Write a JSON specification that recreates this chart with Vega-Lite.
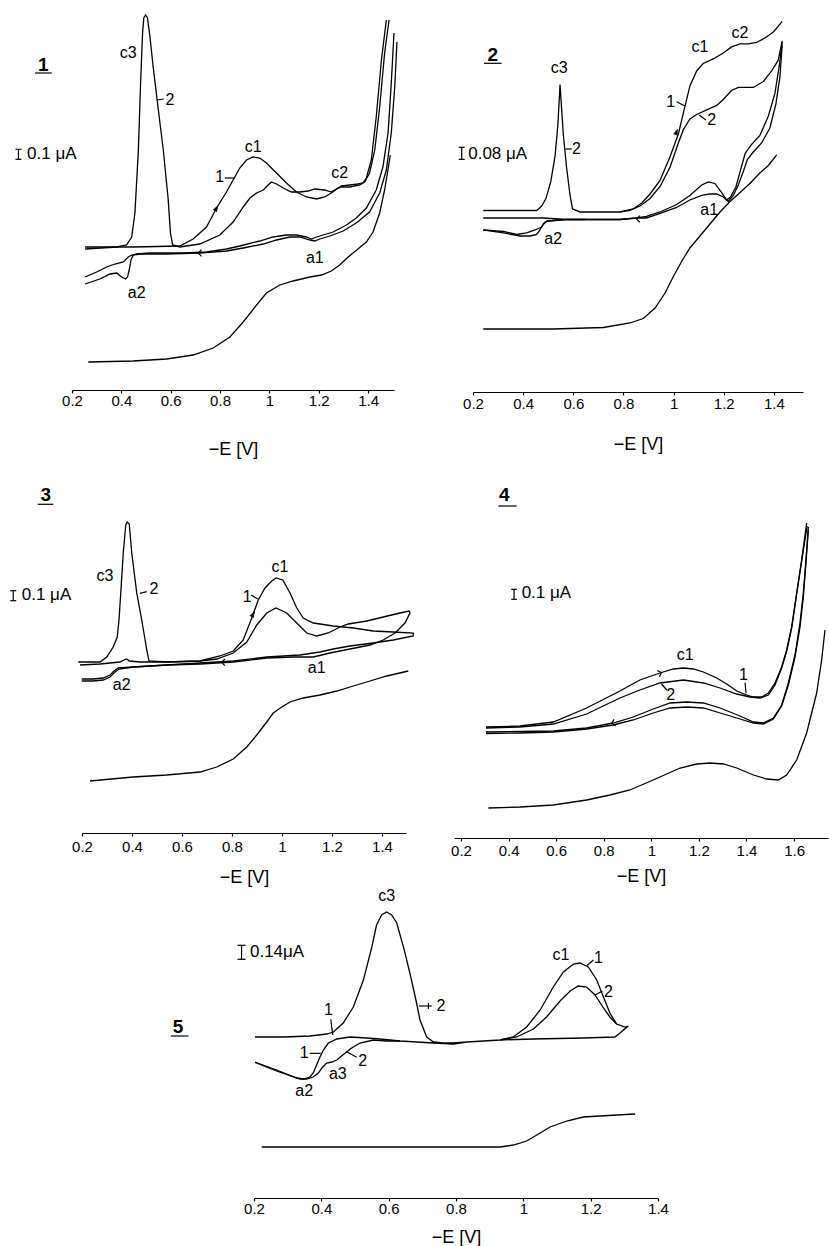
{
"$schema": "https://vega.github.io/schema/vega-lite/v6.json",
"width": 829, "height": 1246, "autosize": {"type": "none"}, "padding": 0, "background": "white",
"config": {
 "view": {"stroke": null},
 "axis": {"grid": false, "domainColor": "black", "tickColor": "black", "labelColor": "black", "titleColor": "black", "labelFont": "Liberation Sans", "titleFont": "Liberation Sans", "labelFontSize": 15, "titleFontSize": 18, "titleFontWeight": "normal", "tickSize": 3, "domainWidth": 1.2, "tickWidth": 1.2, "labelFlush": false, "labelOverlap": false},
 "text": {"font": "Liberation Sans", "fontSize": 16, "color": "black"},
 "line": {"color": "black", "strokeWidth": 1.3},
 "rule": {"color": "black", "strokeWidth": 1.2}
},
"datasets": {
 "c1": [
  {"c":"a","o":0,"E":0.253,"I":1.39},{"c":"a","o":1,"E":0.381,"I":1.41},{"c":"a","o":2,"E":0.421,"I":1.43},{"c":"a","o":3,"E":0.442,"I":1.51},{"c":"a","o":4,"E":0.455,"I":1.75},{"c":"a","o":5,"E":0.469,"I":2.38},{"c":"a","o":6,"E":0.478,"I":3.05},{"c":"a","o":7,"E":0.486,"I":3.55},{"c":"a","o":8,"E":0.491,"I":3.70},{"c":"a","o":9,"E":0.498,"I":3.73},{"c":"a","o":10,"E":0.506,"I":3.70},{"c":"a","o":11,"E":0.516,"I":3.51},{"c":"a","o":12,"E":0.529,"I":3.21},{"c":"a","o":13,"E":0.550,"I":2.78},{"c":"a","o":14,"E":0.570,"I":2.38},{"c":"a","o":15,"E":0.590,"I":1.88},{"c":"a","o":16,"E":0.599,"I":1.55},{"c":"a","o":17,"E":0.608,"I":1.43},{"c":"a","o":18,"E":0.637,"I":1.41},{"c":"a","o":19,"E":0.718,"I":1.44},{"c":"a","o":20,"E":0.799,"I":1.53},{"c":"a","o":21,"E":0.853,"I":1.66},{"c":"a","o":22,"E":0.894,"I":1.81},{"c":"a","o":23,"E":0.921,"I":1.90},{"c":"a","o":24,"E":0.948,"I":1.95},{"c":"a","o":25,"E":0.975,"I":1.98},{"c":"a","o":26,"E":0.995,"I":2.03},{"c":"a","o":27,"E":1.008,"I":2.06},{"c":"a","o":28,"E":1.029,"I":2.04},{"c":"a","o":29,"E":1.056,"I":2.00},{"c":"a","o":30,"E":1.089,"I":1.96},{"c":"a","o":31,"E":1.123,"I":1.96},{"c":"a","o":32,"E":1.157,"I":1.97},{"c":"a","o":33,"E":1.184,"I":1.99},{"c":"a","o":34,"E":1.224,"I":1.98},{"c":"a","o":35,"E":1.251,"I":1.96},{"c":"a","o":36,"E":1.272,"I":1.99},{"c":"a","o":37,"E":1.292,"I":2.01},{"c":"a","o":38,"E":1.326,"I":2.01},{"c":"a","o":39,"E":1.366,"I":2.03},{"c":"a","o":40,"E":1.386,"I":2.06},{"c":"a","o":41,"E":1.406,"I":2.15},{"c":"a","o":42,"E":1.427,"I":2.38},{"c":"a","o":43,"E":1.447,"I":2.81},{"c":"a","o":44,"E":1.467,"I":3.35},{"c":"a","o":45,"E":1.485,"I":3.68},
  {"c":"b","o":0,"E":0.253,"I":1.41},{"c":"b","o":1,"E":0.448,"I":1.41},{"c":"b","o":2,"E":0.637,"I":1.42},{"c":"b","o":3,"E":0.691,"I":1.49},{"c":"b","o":4,"E":0.745,"I":1.61},{"c":"b","o":5,"E":0.786,"I":1.80},{"c":"b","o":6,"E":0.826,"I":1.96},{"c":"b","o":7,"E":0.853,"I":2.08},{"c":"b","o":8,"E":0.880,"I":2.20},{"c":"b","o":9,"E":0.907,"I":2.28},{"c":"b","o":10,"E":0.934,"I":2.31},{"c":"b","o":11,"E":0.961,"I":2.30},{"c":"b","o":12,"E":0.988,"I":2.25},{"c":"b","o":13,"E":1.029,"I":2.15},{"c":"b","o":14,"E":1.069,"I":2.05},{"c":"b","o":15,"E":1.110,"I":1.96},{"c":"b","o":16,"E":1.150,"I":1.91},{"c":"b","o":17,"E":1.191,"I":1.89},{"c":"b","o":18,"E":1.224,"I":1.91},{"c":"b","o":19,"E":1.251,"I":1.95},{"c":"b","o":20,"E":1.272,"I":1.99},{"c":"b","o":21,"E":1.292,"I":2.02},{"c":"b","o":22,"E":1.326,"I":2.03},{"c":"b","o":23,"E":1.359,"I":2.04},{"c":"b","o":24,"E":1.379,"I":2.05},{"c":"b","o":25,"E":1.393,"I":2.10},{"c":"b","o":26,"E":1.413,"I":2.28},{"c":"b","o":27,"E":1.433,"I":2.71},{"c":"b","o":28,"E":1.454,"I":3.28},{"c":"b","o":29,"E":1.474,"I":3.68},
  {"c":"r1","o":0,"E":1.505,"I":3.55},{"c":"r1","o":1,"E":1.494,"I":3.05},{"c":"r1","o":2,"E":1.481,"I":2.55},{"c":"r1","o":3,"E":1.460,"I":2.21},{"c":"r1","o":4,"E":1.433,"I":1.98},{"c":"r1","o":5,"E":1.393,"I":1.80},{"c":"r1","o":6,"E":1.352,"I":1.70},{"c":"r1","o":7,"E":1.312,"I":1.63},{"c":"r1","o":8,"E":1.258,"I":1.56},{"c":"r1","o":9,"E":1.218,"I":1.53},{"c":"r1","o":10,"E":1.191,"I":1.51},{"c":"r1","o":11,"E":1.170,"I":1.49},{"c":"r1","o":12,"E":1.150,"I":1.51},{"c":"r1","o":13,"E":1.110,"I":1.53},{"c":"r1","o":14,"E":1.069,"I":1.53},{"c":"r1","o":15,"E":1.015,"I":1.51},{"c":"r1","o":16,"E":0.961,"I":1.47},{"c":"r1","o":17,"E":0.880,"I":1.42},{"c":"r1","o":18,"E":0.826,"I":1.39},{"c":"r1","o":19,"E":0.745,"I":1.36},{"c":"r1","o":20,"E":0.651,"I":1.35},{"c":"r1","o":21,"E":0.516,"I":1.35},{"c":"r1","o":22,"E":0.462,"I":1.34},{"c":"r1","o":23,"E":0.442,"I":1.33},{"c":"r1","o":24,"E":0.428,"I":1.31},{"c":"r1","o":25,"E":0.408,"I":1.26},{"c":"r1","o":26,"E":0.374,"I":1.24},{"c":"r1","o":27,"E":0.340,"I":1.21},{"c":"r1","o":28,"E":0.300,"I":1.16},{"c":"r1","o":29,"E":0.253,"I":1.11},
  {"c":"r2","o":0,"E":1.517,"I":3.46},{"c":"r2","o":1,"E":1.508,"I":3.01},{"c":"r2","o":2,"E":1.494,"I":2.55},{"c":"r2","o":3,"E":1.474,"I":2.18},{"c":"r2","o":4,"E":1.447,"I":1.95},{"c":"r2","o":5,"E":1.406,"I":1.76},{"c":"r2","o":6,"E":1.352,"I":1.65},{"c":"r2","o":7,"E":1.299,"I":1.57},{"c":"r2","o":8,"E":1.245,"I":1.52},{"c":"r2","o":9,"E":1.204,"I":1.49},{"c":"r2","o":10,"E":1.184,"I":1.47},{"c":"r2","o":11,"E":1.164,"I":1.48},{"c":"r2","o":12,"E":1.123,"I":1.51},{"c":"r2","o":13,"E":1.083,"I":1.51},{"c":"r2","o":14,"E":1.029,"I":1.48},{"c":"r2","o":15,"E":0.975,"I":1.44},{"c":"r2","o":16,"E":0.894,"I":1.40},{"c":"r2","o":17,"E":0.826,"I":1.37},{"c":"r2","o":18,"E":0.718,"I":1.35},{"c":"r2","o":19,"E":0.583,"I":1.34},{"c":"r2","o":20,"E":0.475,"I":1.34},{"c":"r2","o":21,"E":0.448,"I":1.33},{"c":"r2","o":22,"E":0.439,"I":1.28},{"c":"r2","o":23,"E":0.432,"I":1.18},{"c":"r2","o":24,"E":0.425,"I":1.11},{"c":"r2","o":25,"E":0.417,"I":1.09},{"c":"r2","o":26,"E":0.401,"I":1.11},{"c":"r2","o":27,"E":0.381,"I":1.15},{"c":"r2","o":28,"E":0.354,"I":1.14},{"c":"r2","o":29,"E":0.313,"I":1.09},{"c":"r2","o":30,"E":0.253,"I":1.04},
  {"c":"p","o":0,"E":0.266,"I":0.26},{"c":"p","o":1,"E":0.448,"I":0.27},{"c":"p","o":2,"E":0.583,"I":0.29},{"c":"p","o":3,"E":0.691,"I":0.33},{"c":"p","o":4,"E":0.772,"I":0.40},{"c":"p","o":5,"E":0.840,"I":0.51},{"c":"p","o":6,"E":0.894,"I":0.66},{"c":"p","o":7,"E":0.948,"I":0.83},{"c":"p","o":8,"E":0.988,"I":0.95},{"c":"p","o":9,"E":1.042,"I":1.03},{"c":"p","o":10,"E":1.096,"I":1.07},{"c":"p","o":11,"E":1.164,"I":1.11},{"c":"p","o":12,"E":1.211,"I":1.13},{"c":"p","o":13,"E":1.251,"I":1.17},{"c":"p","o":14,"E":1.285,"I":1.23},{"c":"p","o":15,"E":1.319,"I":1.31},{"c":"p","o":16,"E":1.359,"I":1.39},{"c":"p","o":17,"E":1.393,"I":1.46},{"c":"p","o":18,"E":1.420,"I":1.56},{"c":"p","o":19,"E":1.447,"I":1.75},{"c":"p","o":20,"E":1.467,"I":1.98},{"c":"p","o":21,"E":1.485,"I":2.25},{"c":"p","o":22,"E":1.490,"I":2.33}
 ],
 "t1": [{"t":"c3","E":0.428,"I":3.35},{"t":"2","E":0.597,"I":2.88},{"t":"c1","E":0.934,"I":2.41},{"t":"1","E":0.799,"I":2.11},{"t":"c2","E":1.285,"I":2.15},{"t":"a1","E":1.184,"I":1.30},{"t":"a2","E":0.462,"I":0.95}],
 "s1": [{"E":0.544,"I":2.88,"E2":0.572,"I2":2.89},{"E":0.819,"I":2.10,"E2":0.860,"I2":2.10},{"E":0.050,"I":3.15,"E2":0.118,"I2":3.15},{"E":-0.017,"I":2.287,"E2":-0.017,"I2":2.387},{"E":-0.029,"I":2.287,"E2":-0.005,"I2":2.287},{"E":-0.029,"I":2.387,"E2":-0.005,"I2":2.387}],
 "c2": [
  {"c":"a","o":0,"E":0.241,"I":1.21},{"c":"a","o":1,"E":0.387,"I":1.21},{"c":"a","o":2,"E":0.454,"I":1.21},{"c":"a","o":3,"E":0.474,"I":1.24},{"c":"a","o":4,"E":0.491,"I":1.29},{"c":"a","o":5,"E":0.510,"I":1.40},{"c":"a","o":6,"E":0.527,"I":1.57},{"c":"a","o":7,"E":0.538,"I":1.77},{"c":"a","o":8,"E":0.544,"I":1.95},{"c":"a","o":9,"E":0.547,"I":2.05},{"c":"a","o":10,"E":0.551,"I":1.95},{"c":"a","o":11,"E":0.560,"I":1.72},{"c":"a","o":12,"E":0.573,"I":1.50},{"c":"a","o":13,"E":0.587,"I":1.31},{"c":"a","o":14,"E":0.597,"I":1.22},{"c":"a","o":15,"E":0.627,"I":1.20},{"c":"a","o":16,"E":0.720,"I":1.20},{"c":"a","o":17,"E":0.786,"I":1.20},{"c":"a","o":18,"E":0.826,"I":1.21},{"c":"a","o":19,"E":0.866,"I":1.24},{"c":"a","o":20,"E":0.906,"I":1.29},{"c":"a","o":21,"E":0.946,"I":1.37},{"c":"a","o":22,"E":0.986,"I":1.50},{"c":"a","o":23,"E":1.019,"I":1.66},{"c":"a","o":24,"E":1.039,"I":1.75},{"c":"a","o":25,"E":1.065,"I":1.82},{"c":"a","o":26,"E":1.092,"I":1.85},{"c":"a","o":27,"E":1.132,"I":1.88},{"c":"a","o":28,"E":1.172,"I":1.91},{"c":"a","o":29,"E":1.198,"I":1.95},{"c":"a","o":30,"E":1.231,"I":2.01},{"c":"a","o":31,"E":1.258,"I":2.03},{"c":"a","o":32,"E":1.285,"I":2.03},{"c":"a","o":33,"E":1.318,"I":2.03},{"c":"a","o":34,"E":1.358,"I":2.07},{"c":"a","o":35,"E":1.391,"I":2.14},{"c":"a","o":36,"E":1.417,"I":2.21},{"c":"a","o":37,"E":1.433,"I":2.34},
  {"c":"b","o":0,"E":0.786,"I":1.20},{"c":"b","o":1,"E":0.839,"I":1.22},{"c":"b","o":2,"E":0.873,"I":1.26},{"c":"b","o":3,"E":0.906,"I":1.32},{"c":"b","o":4,"E":0.946,"I":1.41},{"c":"b","o":5,"E":0.986,"I":1.57},{"c":"b","o":6,"E":1.019,"I":1.72},{"c":"b","o":7,"E":1.039,"I":1.86},{"c":"b","o":8,"E":1.065,"I":2.04},{"c":"b","o":9,"E":1.092,"I":2.14},{"c":"b","o":10,"E":1.118,"I":2.19},{"c":"b","o":11,"E":1.158,"I":2.22},{"c":"b","o":12,"E":1.198,"I":2.26},{"c":"b","o":13,"E":1.231,"I":2.30},{"c":"b","o":14,"E":1.265,"I":2.32},{"c":"b","o":15,"E":1.298,"I":2.32},{"c":"b","o":16,"E":1.331,"I":2.33},{"c":"b","o":17,"E":1.364,"I":2.36},{"c":"b","o":18,"E":1.398,"I":2.40},{"c":"b","o":19,"E":1.433,"I":2.47},
  {"c":"g","o":0,"E":0.241,"I":1.16},{"c":"g","o":1,"E":0.387,"I":1.16},{"c":"g","o":2,"E":0.480,"I":1.16},{"c":"g","o":3,"E":0.573,"I":1.15},{"c":"g","o":4,"E":0.653,"I":1.15},
  {"c":"r1","o":0,"E":1.433,"I":2.33},{"c":"r1","o":1,"E":1.421,"I":2.17},{"c":"r1","o":2,"E":1.404,"I":1.99},{"c":"r1","o":3,"E":1.378,"I":1.84},{"c":"r1","o":4,"E":1.344,"I":1.71},{"c":"r1","o":5,"E":1.311,"I":1.65},{"c":"r1","o":6,"E":1.285,"I":1.59},{"c":"r1","o":7,"E":1.267,"I":1.48},{"c":"r1","o":8,"E":1.249,"I":1.37},{"c":"r1","o":9,"E":1.227,"I":1.30},{"c":"r1","o":10,"E":1.211,"I":1.28},{"c":"r1","o":11,"E":1.191,"I":1.33},{"c":"r1","o":12,"E":1.165,"I":1.39},{"c":"r1","o":13,"E":1.138,"I":1.40},{"c":"r1","o":14,"E":1.112,"I":1.38},{"c":"r1","o":15,"E":1.065,"I":1.31},{"c":"r1","o":16,"E":1.012,"I":1.25},{"c":"r1","o":17,"E":0.946,"I":1.20},{"c":"r1","o":18,"E":0.892,"I":1.17},{"c":"r1","o":19,"E":0.853,"I":1.16},{"c":"r1","o":20,"E":0.786,"I":1.15},{"c":"r1","o":21,"E":0.653,"I":1.15},{"c":"r1","o":22,"E":0.573,"I":1.15},{"c":"r1","o":23,"E":0.494,"I":1.14},{"c":"r1","o":24,"E":0.480,"I":1.12},{"c":"r1","o":25,"E":0.467,"I":1.08},{"c":"r1","o":26,"E":0.454,"I":1.05},{"c":"r1","o":27,"E":0.427,"I":1.04},{"c":"r1","o":28,"E":0.387,"I":1.04},{"c":"r1","o":29,"E":0.321,"I":1.06},{"c":"r1","o":30,"E":0.241,"I":1.08},
  {"c":"r2","o":0,"E":1.433,"I":2.31},{"c":"r2","o":1,"E":1.424,"I":2.10},{"c":"r2","o":2,"E":1.408,"I":1.92},{"c":"r2","o":3,"E":1.384,"I":1.76},{"c":"r2","o":4,"E":1.351,"I":1.66},{"c":"r2","o":5,"E":1.318,"I":1.60},{"c":"r2","o":6,"E":1.294,"I":1.55},{"c":"r2","o":7,"E":1.278,"I":1.47},{"c":"r2","o":8,"E":1.258,"I":1.38},{"c":"r2","o":9,"E":1.238,"I":1.31},{"c":"r2","o":10,"E":1.218,"I":1.27},{"c":"r2","o":11,"E":1.198,"I":1.30},{"c":"r2","o":12,"E":1.172,"I":1.32},{"c":"r2","o":13,"E":1.145,"I":1.32},{"c":"r2","o":14,"E":1.112,"I":1.31},{"c":"r2","o":15,"E":1.065,"I":1.28},{"c":"r2","o":16,"E":1.012,"I":1.23},{"c":"r2","o":17,"E":0.946,"I":1.19},{"c":"r2","o":18,"E":0.892,"I":1.16},{"c":"r2","o":19,"E":0.853,"I":1.16},{"c":"r2","o":20,"E":0.786,"I":1.15},{"c":"r2","o":21,"E":0.573,"I":1.15},{"c":"r2","o":22,"E":0.500,"I":1.14},{"c":"r2","o":23,"E":0.487,"I":1.13},{"c":"r2","o":24,"E":0.474,"I":1.10},{"c":"r2","o":25,"E":0.447,"I":1.08},{"c":"r2","o":26,"E":0.414,"I":1.06},{"c":"r2","o":27,"E":0.374,"I":1.05},{"c":"r2","o":28,"E":0.321,"I":1.07},{"c":"r2","o":29,"E":0.241,"I":1.08},
  {"c":"p","o":0,"E":0.241,"I":0.42},{"c":"p","o":1,"E":0.520,"I":0.42},{"c":"p","o":2,"E":0.720,"I":0.43},{"c":"p","o":3,"E":0.826,"I":0.46},{"c":"p","o":4,"E":0.879,"I":0.49},{"c":"p","o":5,"E":0.926,"I":0.56},{"c":"p","o":6,"E":0.966,"I":0.66},{"c":"p","o":7,"E":0.999,"I":0.77},{"c":"p","o":8,"E":1.032,"I":0.87},{"c":"p","o":9,"E":1.065,"I":0.96},{"c":"p","o":10,"E":1.105,"I":1.04},{"c":"p","o":11,"E":1.145,"I":1.12},{"c":"p","o":12,"E":1.185,"I":1.20},{"c":"p","o":13,"E":1.225,"I":1.27},{"c":"p","o":14,"E":1.265,"I":1.33},{"c":"p","o":15,"E":1.304,"I":1.39},{"c":"p","o":16,"E":1.344,"I":1.46},{"c":"p","o":17,"E":1.378,"I":1.51},{"c":"p","o":18,"E":1.411,"I":1.58}
 ],
 "t2": [{"t":"c3","E":0.544,"I":2.158},{"t":"2","E":0.613,"I":1.618},{"t":"c1","E":1.105,"I":2.302},{"t":"c2","E":1.265,"I":2.391},{"t":"1","E":0.988,"I":1.935},{"t":"2","E":1.152,"I":1.813},{"t":"a1","E":1.142,"I":1.213},{"t":"a2","E":0.520,"I":1.018}],
 "s2": [{"E":0.569,"I":1.62,"E2":0.594,"I2":1.62},{"E":1.012,"I":1.935,"E2":1.045,"I2":1.907},{"E":1.102,"I":1.847,"E2":1.129,"I2":1.813},{"E":0.244,"I":2.191,"E2":0.314,"I2":2.191},{"E":0.155,"I":1.551,"E2":0.155,"I2":1.631},{"E":0.143,"I":1.551,"E2":0.167,"I2":1.551},{"E":0.143,"I":1.631,"E2":0.167,"I2":1.631}],
 "c3": [
  {"c":"a","o":0,"E":0.185,"I":1.71},{"c":"a","o":1,"E":0.272,"I":1.71},{"c":"a","o":2,"E":0.299,"I":1.76},{"c":"a","o":3,"E":0.325,"I":1.86},{"c":"a","o":4,"E":0.341,"I":1.96},{"c":"a","o":5,"E":0.348,"I":2.13},{"c":"a","o":6,"E":0.355,"I":2.40},{"c":"a","o":7,"E":0.365,"I":2.80},{"c":"a","o":8,"E":0.375,"I":3.08},{"c":"a","o":9,"E":0.381,"I":3.11},{"c":"a","o":10,"E":0.389,"I":3.09},{"c":"a","o":11,"E":0.399,"I":2.80},{"c":"a","o":12,"E":0.419,"I":2.40},{"c":"a","o":13,"E":0.439,"I":2.13},{"c":"a","o":14,"E":0.459,"I":1.83},{"c":"a","o":15,"E":0.468,"I":1.72},{"c":"a","o":16,"E":0.539,"I":1.71},{"c":"a","o":17,"E":0.672,"I":1.72},{"c":"a","o":18,"E":0.739,"I":1.74},{"c":"a","o":19,"E":0.805,"I":1.80},{"c":"a","o":20,"E":0.859,"I":1.91},{"c":"a","o":21,"E":0.899,"I":2.08},{"c":"a","o":22,"E":0.939,"I":2.20},{"c":"a","o":23,"E":0.976,"I":2.25},{"c":"a","o":24,"E":1.019,"I":2.20},{"c":"a","o":25,"E":1.059,"I":2.10},{"c":"a","o":26,"E":1.099,"I":2.00},{"c":"a","o":27,"E":1.139,"I":1.97},{"c":"a","o":28,"E":1.185,"I":2.00},{"c":"a","o":29,"E":1.232,"I":2.06},{"c":"a","o":30,"E":1.265,"I":2.09},{"c":"a","o":31,"E":1.339,"I":2.12},{"c":"a","o":32,"E":1.405,"I":2.16},{"c":"a","o":33,"E":1.472,"I":2.20},{"c":"a","o":34,"E":1.509,"I":2.22},{"c":"a","o":35,"E":1.512,"I":2.20},{"c":"a","o":36,"E":1.492,"I":2.10},{"c":"a","o":37,"E":1.452,"I":2.00},{"c":"a","o":38,"E":1.405,"I":1.93},{"c":"a","o":39,"E":1.352,"I":1.88},{"c":"a","o":40,"E":1.272,"I":1.84},{"c":"a","o":41,"E":1.192,"I":1.80},{"c":"a","o":42,"E":1.125,"I":1.76},{"c":"a","o":43,"E":1.045,"I":1.76},{"c":"a","o":44,"E":0.939,"I":1.75},{"c":"a","o":45,"E":0.805,"I":1.71},{"c":"a","o":46,"E":0.672,"I":1.69},{"c":"a","o":47,"E":0.539,"I":1.68},{"c":"a","o":48,"E":0.405,"I":1.66},{"c":"a","o":49,"E":0.349,"I":1.64},{"c":"a","o":50,"E":0.332,"I":1.61},{"c":"a","o":51,"E":0.312,"I":1.56},{"c":"a","o":52,"E":0.285,"I":1.53},{"c":"a","o":53,"E":0.245,"I":1.52},{"c":"a","o":54,"E":0.199,"I":1.52},
  {"c":"b","o":0,"E":0.192,"I":1.68},{"c":"b","o":1,"E":0.272,"I":1.69},{"c":"b","o":2,"E":0.352,"I":1.71},{"c":"b","o":3,"E":0.368,"I":1.73},{"c":"b","o":4,"E":0.379,"I":1.74},{"c":"b","o":5,"E":0.389,"I":1.72},{"c":"b","o":6,"E":0.432,"I":1.71},{"c":"b","o":7,"E":0.539,"I":1.71},{"c":"b","o":8,"E":0.672,"I":1.72},{"c":"b","o":9,"E":0.752,"I":1.77},{"c":"b","o":10,"E":0.805,"I":1.82},{"c":"b","o":11,"E":0.845,"I":1.93},{"c":"b","o":12,"E":0.879,"I":2.15},{"c":"b","o":13,"E":0.905,"I":2.33},{"c":"b","o":14,"E":0.932,"I":2.45},{"c":"b","o":15,"E":0.959,"I":2.52},{"c":"b","o":16,"E":0.976,"I":2.55},{"c":"b","o":17,"E":1.003,"I":2.53},{"c":"b","o":18,"E":1.032,"I":2.40},{"c":"b","o":19,"E":1.059,"I":2.25},{"c":"b","o":20,"E":1.085,"I":2.15},{"c":"b","o":21,"E":1.125,"I":2.10},{"c":"b","o":22,"E":1.179,"I":2.08},{"c":"b","o":23,"E":1.205,"I":2.07},{"c":"b","o":24,"E":1.285,"I":2.05},{"c":"b","o":25,"E":1.365,"I":2.02},{"c":"b","o":26,"E":1.445,"I":2.01},{"c":"b","o":27,"E":1.525,"I":2.00},{"c":"b","o":28,"E":1.525,"I":1.97},{"c":"b","o":29,"E":1.445,"I":1.93},{"c":"b","o":30,"E":1.365,"I":1.90},{"c":"b","o":31,"E":1.272,"I":1.87},{"c":"b","o":32,"E":1.205,"I":1.84},{"c":"b","o":33,"E":1.152,"I":1.81},{"c":"b","o":34,"E":1.072,"I":1.78},{"c":"b","o":35,"E":0.939,"I":1.76},{"c":"b","o":36,"E":0.805,"I":1.72},{"c":"b","o":37,"E":0.672,"I":1.70},{"c":"b","o":38,"E":0.539,"I":1.68},{"c":"b","o":39,"E":0.405,"I":1.66},{"c":"b","o":40,"E":0.345,"I":1.65},{"c":"b","o":41,"E":0.328,"I":1.62},{"c":"b","o":42,"E":0.312,"I":1.58},{"c":"b","o":43,"E":0.285,"I":1.55},{"c":"b","o":44,"E":0.245,"I":1.54},{"c":"b","o":45,"E":0.199,"I":1.54},
  {"c":"p","o":0,"E":0.232,"I":0.52},{"c":"p","o":1,"E":0.405,"I":0.56},{"c":"p","o":2,"E":0.539,"I":0.58},{"c":"p","o":3,"E":0.672,"I":0.61},{"c":"p","o":4,"E":0.739,"I":0.66},{"c":"p","o":5,"E":0.805,"I":0.74},{"c":"p","o":6,"E":0.859,"I":0.86},{"c":"p","o":7,"E":0.899,"I":0.98},{"c":"p","o":8,"E":0.939,"I":1.11},{"c":"p","o":9,"E":0.965,"I":1.20},{"c":"p","o":10,"E":0.999,"I":1.26},{"c":"p","o":11,"E":1.032,"I":1.31},{"c":"p","o":12,"E":1.085,"I":1.35},{"c":"p","o":13,"E":1.152,"I":1.38},{"c":"p","o":14,"E":1.219,"I":1.42},{"c":"p","o":15,"E":1.285,"I":1.47},{"c":"p","o":16,"E":1.352,"I":1.52},{"c":"p","o":17,"E":1.419,"I":1.57},{"c":"p","o":18,"E":1.505,"I":1.62}
 ],
 "t3": [{"t":"c3","E":0.292,"I":2.57},{"t":"2","E":0.488,"I":2.437},{"t":"c1","E":0.992,"I":2.657},{"t":"1","E":0.861,"I":2.363},{"t":"a1","E":1.139,"I":1.647},{"t":"a2","E":0.359,"I":1.48}],
 "s3": [{"E":0.432,"I":2.397,"E2":0.459,"I2":2.413},{"E":0.877,"I":2.38,"E2":0.903,"I2":2.34},{"E":0.023,"I":3.287,"E2":0.085,"I2":3.287},{"E":-0.075,"I":2.323,"E2":-0.075,"I2":2.423},{"E":-0.087,"I":2.323,"E2":-0.063,"I2":2.323},{"E":-0.087,"I":2.423,"E2":-0.063,"I2":2.423}],
 "c4": [
  {"c":"a","o":0,"E":0.305,"I":1.11},{"c":"a","o":1,"E":0.448,"I":1.12},{"c":"a","o":2,"E":0.588,"I":1.16},{"c":"a","o":3,"E":0.728,"I":1.30},{"c":"a","o":4,"E":0.868,"I":1.47},{"c":"a","o":5,"E":0.952,"I":1.58},{"c":"a","o":6,"E":1.036,"I":1.65},{"c":"a","o":7,"E":1.093,"I":1.69},{"c":"a","o":8,"E":1.135,"I":1.70},{"c":"a","o":9,"E":1.177,"I":1.69},{"c":"a","o":10,"E":1.219,"I":1.66},{"c":"a","o":11,"E":1.275,"I":1.60},{"c":"a","o":12,"E":1.317,"I":1.54},{"c":"a","o":13,"E":1.359,"I":1.47},{"c":"a","o":14,"E":1.401,"I":1.43},{"c":"a","o":15,"E":1.429,"I":1.41},{"c":"a","o":16,"E":1.464,"I":1.41},{"c":"a","o":17,"E":1.492,"I":1.45},{"c":"a","o":18,"E":1.520,"I":1.55},{"c":"a","o":19,"E":1.548,"I":1.71},{"c":"a","o":20,"E":1.569,"I":1.88},{"c":"a","o":21,"E":1.590,"I":2.11},{"c":"a","o":22,"E":1.611,"I":2.45},{"c":"a","o":23,"E":1.632,"I":2.78},{"c":"a","o":24,"E":1.653,"I":3.15},
  {"c":"b","o":0,"E":0.305,"I":1.10},{"c":"b","o":1,"E":0.448,"I":1.11},{"c":"b","o":2,"E":0.588,"I":1.14},{"c":"b","o":3,"E":0.728,"I":1.24},{"c":"b","o":4,"E":0.868,"I":1.40},{"c":"b","o":5,"E":0.952,"I":1.48},{"c":"b","o":6,"E":1.036,"I":1.55},{"c":"b","o":7,"E":1.135,"I":1.58},{"c":"b","o":8,"E":1.219,"I":1.55},{"c":"b","o":9,"E":1.289,"I":1.50},{"c":"b","o":10,"E":1.359,"I":1.44},{"c":"b","o":11,"E":1.415,"I":1.41},{"c":"b","o":12,"E":1.457,"I":1.40},{"c":"b","o":13,"E":1.492,"I":1.43},{"c":"b","o":14,"E":1.520,"I":1.53},{"c":"b","o":15,"E":1.548,"I":1.70},{"c":"b","o":16,"E":1.569,"I":1.87},{"c":"b","o":17,"E":1.590,"I":2.10},{"c":"b","o":18,"E":1.611,"I":2.44},{"c":"b","o":19,"E":1.632,"I":2.77},{"c":"b","o":20,"E":1.655,"I":3.12},
  {"c":"r1","o":0,"E":1.660,"I":3.11},{"c":"r1","o":1,"E":1.650,"I":2.78},{"c":"r1","o":2,"E":1.639,"I":2.45},{"c":"r1","o":3,"E":1.625,"I":2.15},{"c":"r1","o":4,"E":1.604,"I":1.83},{"c":"r1","o":5,"E":1.576,"I":1.55},{"c":"r1","o":6,"E":1.548,"I":1.33},{"c":"r1","o":7,"E":1.513,"I":1.20},{"c":"r1","o":8,"E":1.471,"I":1.15},{"c":"r1","o":9,"E":1.429,"I":1.16},{"c":"r1","o":10,"E":1.373,"I":1.22},{"c":"r1","o":11,"E":1.289,"I":1.30},{"c":"r1","o":12,"E":1.219,"I":1.35},{"c":"r1","o":13,"E":1.149,"I":1.36},{"c":"r1","o":14,"E":1.079,"I":1.35},{"c":"r1","o":15,"E":1.008,"I":1.29},{"c":"r1","o":16,"E":0.924,"I":1.21},{"c":"r1","o":17,"E":0.840,"I":1.15},{"c":"r1","o":18,"E":0.728,"I":1.10},{"c":"r1","o":19,"E":0.588,"I":1.07},{"c":"r1","o":20,"E":0.448,"I":1.065},{"c":"r1","o":21,"E":0.305,"I":1.06},
  {"c":"r2","o":0,"E":1.660,"I":3.08},{"c":"r2","o":1,"E":1.650,"I":2.75},{"c":"r2","o":2,"E":1.639,"I":2.41},{"c":"r2","o":3,"E":1.625,"I":2.11},{"c":"r2","o":4,"E":1.604,"I":1.81},{"c":"r2","o":5,"E":1.576,"I":1.53},{"c":"r2","o":6,"E":1.548,"I":1.32},{"c":"r2","o":7,"E":1.513,"I":1.19},{"c":"r2","o":8,"E":1.471,"I":1.14},{"c":"r2","o":9,"E":1.429,"I":1.15},{"c":"r2","o":10,"E":1.373,"I":1.19},{"c":"r2","o":11,"E":1.289,"I":1.25},{"c":"r2","o":12,"E":1.219,"I":1.30},{"c":"r2","o":13,"E":1.149,"I":1.31},{"c":"r2","o":14,"E":1.079,"I":1.30},{"c":"r2","o":15,"E":1.008,"I":1.25},{"c":"r2","o":16,"E":0.924,"I":1.18},{"c":"r2","o":17,"E":0.840,"I":1.13},{"c":"r2","o":18,"E":0.728,"I":1.09},{"c":"r2","o":19,"E":0.588,"I":1.06},{"c":"r2","o":20,"E":0.448,"I":1.05},{"c":"r2","o":21,"E":0.305,"I":1.045},
  {"c":"p","o":0,"E":0.315,"I":0.30},{"c":"p","o":1,"E":0.448,"I":0.31},{"c":"p","o":2,"E":0.588,"I":0.33},{"c":"p","o":3,"E":0.728,"I":0.38},{"c":"p","o":4,"E":0.826,"I":0.43},{"c":"p","o":5,"E":0.910,"I":0.48},{"c":"p","o":6,"E":1.008,"I":0.58},{"c":"p","o":7,"E":1.121,"I":0.70},{"c":"p","o":8,"E":1.191,"I":0.74},{"c":"p","o":9,"E":1.247,"I":0.75},{"c":"p","o":10,"E":1.303,"I":0.74},{"c":"p","o":11,"E":1.359,"I":0.70},{"c":"p","o":12,"E":1.429,"I":0.63},{"c":"p","o":13,"E":1.485,"I":0.59},{"c":"p","o":14,"E":1.534,"I":0.58},{"c":"p","o":15,"E":1.569,"I":0.63},{"c":"p","o":16,"E":1.611,"I":0.78},{"c":"p","o":17,"E":1.653,"I":1.05},{"c":"p","o":18,"E":1.695,"I":1.45},{"c":"p","o":19,"E":1.716,"I":1.78},{"c":"p","o":20,"E":1.730,"I":2.08}
 ],
 "t4": [{"t":"c1","E":1.142,"I":1.83},{"t":"1","E":1.387,"I":1.63},{"t":"2","E":1.081,"I":1.43}],
 "s4": [{"E":1.394,"I":1.553,"E2":1.398,"I2":1.447},{"E":1.043,"I":1.54,"E2":1.065,"I2":1.48},{"E":0.357,"I":3.32,"E2":0.434,"I2":3.32},{"E":0.423,"I":2.387,"E2":0.423,"I2":2.487},{"E":0.411,"I":2.387,"E2":0.435,"I2":2.387},{"E":0.411,"I":2.487,"E2":0.435,"I2":2.487}],
 "c5": [
  {"c":"a","o":0,"E":0.203,"I":1.61},{"c":"a","o":1,"E":0.287,"I":1.61},{"c":"a","o":2,"E":0.366,"I":1.62},{"c":"a","o":3,"E":0.416,"I":1.64},{"c":"a","o":4,"E":0.436,"I":1.66},{"c":"a","o":5,"E":0.465,"I":1.75},{"c":"a","o":6,"E":0.495,"I":1.91},{"c":"a","o":7,"E":0.525,"I":2.18},{"c":"a","o":8,"E":0.550,"I":2.51},{"c":"a","o":9,"E":0.564,"I":2.73},{"c":"a","o":10,"E":0.579,"I":2.83},{"c":"a","o":11,"E":0.594,"I":2.86},{"c":"a","o":12,"E":0.609,"I":2.83},{"c":"a","o":13,"E":0.624,"I":2.75},{"c":"a","o":14,"E":0.644,"I":2.51},{"c":"a","o":15,"E":0.663,"I":2.25},{"c":"a","o":16,"E":0.681,"I":1.98},{"c":"a","o":17,"E":0.693,"I":1.78},{"c":"a","o":18,"E":0.713,"I":1.61},{"c":"a","o":19,"E":0.733,"I":1.56},{"c":"a","o":20,"E":0.762,"I":1.55},{"c":"a","o":21,"E":0.792,"I":1.55},{"c":"a","o":22,"E":0.832,"I":1.56},{"c":"a","o":23,"E":0.881,"I":1.57},{"c":"a","o":24,"E":0.931,"I":1.58},{"c":"a","o":25,"E":0.970,"I":1.61},{"c":"a","o":26,"E":1.010,"I":1.71},{"c":"a","o":27,"E":1.050,"I":1.88},{"c":"a","o":28,"E":1.089,"I":2.11},{"c":"a","o":29,"E":1.119,"I":2.26},{"c":"a","o":30,"E":1.149,"I":2.34},{"c":"a","o":31,"E":1.168,"I":2.35},{"c":"a","o":32,"E":1.193,"I":2.31},{"c":"a","o":33,"E":1.218,"I":2.18},{"c":"a","o":34,"E":1.238,"I":2.01},{"c":"a","o":35,"E":1.257,"I":1.85},{"c":"a","o":36,"E":1.277,"I":1.74},{"c":"a","o":37,"E":1.302,"I":1.71},{"c":"a","o":38,"E":1.312,"I":1.72},{"c":"a","o":39,"E":1.287,"I":1.65},{"c":"a","o":40,"E":1.272,"I":1.61},{"c":"a","o":41,"E":1.178,"I":1.60},{"c":"a","o":42,"E":1.030,"I":1.59},{"c":"a","o":43,"E":0.931,"I":1.58},{"c":"a","o":44,"E":0.832,"I":1.56},{"c":"a","o":45,"E":0.792,"I":1.54},{"c":"a","o":46,"E":0.733,"I":1.55},{"c":"a","o":47,"E":0.634,"I":1.57},{"c":"a","o":48,"E":0.574,"I":1.59},{"c":"a","o":49,"E":0.535,"I":1.60},{"c":"a","o":50,"E":0.485,"I":1.61},{"c":"a","o":51,"E":0.446,"I":1.59},{"c":"a","o":52,"E":0.421,"I":1.55},{"c":"a","o":53,"E":0.406,"I":1.48},{"c":"a","o":54,"E":0.396,"I":1.41},{"c":"a","o":55,"E":0.386,"I":1.33},{"c":"a","o":56,"E":0.376,"I":1.25},{"c":"a","o":57,"E":0.366,"I":1.21},{"c":"a","o":58,"E":0.347,"I":1.19},{"c":"a","o":59,"E":0.327,"I":1.20},{"c":"a","o":60,"E":0.267,"I":1.28},{"c":"a","o":61,"E":0.203,"I":1.36},
  {"c":"b","o":0,"E":0.931,"I":1.58},{"c":"b","o":1,"E":0.980,"I":1.61},{"c":"b","o":2,"E":1.030,"I":1.69},{"c":"b","o":3,"E":1.069,"I":1.81},{"c":"b","o":4,"E":1.109,"I":1.97},{"c":"b","o":5,"E":1.139,"I":2.07},{"c":"b","o":6,"E":1.163,"I":2.12},{"c":"b","o":7,"E":1.188,"I":2.11},{"c":"b","o":8,"E":1.213,"I":2.03},{"c":"b","o":9,"E":1.238,"I":1.90},{"c":"b","o":10,"E":1.257,"I":1.81},{"c":"b","o":11,"E":1.277,"I":1.74},
  {"c":"d","o":0,"E":0.634,"I":1.57},{"c":"d","o":1,"E":0.594,"I":1.57},{"c":"d","o":2,"E":0.554,"I":1.58},{"c":"d","o":3,"E":0.515,"I":1.55},{"c":"d","o":4,"E":0.490,"I":1.50},{"c":"d","o":5,"E":0.475,"I":1.46},{"c":"d","o":6,"E":0.460,"I":1.42},{"c":"d","o":7,"E":0.446,"I":1.38},{"c":"d","o":8,"E":0.431,"I":1.36},{"c":"d","o":9,"E":0.416,"I":1.35},{"c":"d","o":10,"E":0.404,"I":1.31},{"c":"d","o":11,"E":0.391,"I":1.25},{"c":"d","o":12,"E":0.376,"I":1.21},{"c":"d","o":13,"E":0.356,"I":1.19},{"c":"d","o":14,"E":0.337,"I":1.19},{"c":"d","o":15,"E":0.267,"I":1.27},{"c":"d","o":16,"E":0.203,"I":1.355},
  {"c":"p","o":0,"E":0.223,"I":0.51},{"c":"p","o":1,"E":0.436,"I":0.51},{"c":"p","o":2,"E":0.634,"I":0.51},{"c":"p","o":3,"E":0.832,"I":0.51},{"c":"p","o":4,"E":0.931,"I":0.51},{"c":"p","o":5,"E":0.970,"I":0.53},{"c":"p","o":6,"E":1.010,"I":0.57},{"c":"p","o":7,"E":1.050,"I":0.65},{"c":"p","o":8,"E":1.079,"I":0.71},{"c":"p","o":9,"E":1.129,"I":0.77},{"c":"p","o":10,"E":1.178,"I":0.81},{"c":"p","o":11,"E":1.228,"I":0.82},{"c":"p","o":12,"E":1.277,"I":0.83},{"c":"p","o":13,"E":1.332,"I":0.84}
 ],
 "t5": [{"t":"c3","E":0.594,"I":3.02},{"t":"2","E":0.755,"I":1.92},{"t":"1","E":0.421,"I":1.88},{"t":"c1","E":1.112,"I":2.43},{"t":"1","E":1.223,"I":2.403},{"t":"2","E":1.253,"I":2.063},{"t":"1","E":0.349,"I":1.453},{"t":"2","E":0.523,"I":1.373},{"t":"a3","E":0.449,"I":1.237},{"t":"a2","E":0.349,"I":1.073}],
 "s5": [{"E":0.690,"I":1.92,"E2":0.728,"I2":1.92},{"E":0.718,"I":1.95,"E2":0.718,"I2":1.89},{"E":0.428,"I":1.787,"E2":0.434,"I2":1.63},{"E":1.188,"I":2.32,"E2":1.208,"I2":2.38},{"E":1.213,"I":2.03,"E2":1.235,"I2":2.07},{"E":0.366,"I":1.447,"E2":0.398,"I2":1.447},{"E":0.475,"I":1.463,"E2":0.505,"I2":1.407},{"E":-0.047,"I":1.62,"E2":0.005,"I2":1.62},{"E":0.163,"I":2.387,"E2":0.163,"I2":2.527},{"E":0.151,"I":2.387,"E2":0.175,"I2":2.387},{"E":0.151,"I":2.527,"E2":0.175,"I2":2.527}]
},
"layer": [
 {"layer": [
  {"data": {"name": "c1"}, "mark": {"type": "line"},
   "encoding": {
    "x": {"field": "E", "type": "quantitative", "scale": {"domain": [0.2, 1.505], "range": [72, 394], "nice": false, "zero": false},
          "axis": {"orient": "bottom", "offset": -856, "values": [0.2, 0.4, 0.6, 0.8, 1, 1.2, 1.4], "format": "~f", "title": "−E [V]", "titlePadding": 32, "labelPadding": 0}},
    "y": {"field": "I", "type": "quantitative", "scale": {"domain": [0, 3.88], "range": [388, 0], "nice": false, "zero": false}, "axis": null},
    "detail": {"field": "c"}, "order": {"field": "o"}}},
  {"data": {"name": "t1"}, "mark": {"type": "text"},
   "encoding": {"x": {"field": "E", "type": "quantitative"}, "y": {"field": "I", "type": "quantitative", "axis": null}, "text": {"field": "t"}}},
  {"data": {"name": "s1"}, "mark": {"type": "rule"},
   "encoding": {"x": {"field": "E", "type": "quantitative"}, "y": {"field": "I", "type": "quantitative", "axis": null}, "x2": {"field": "E2"}, "y2": {"field": "I2"}}},
  {"data": {"values": [{"t": "1", "E": 0.084, "I": 3.23}]}, "mark": {"type": "text", "fontWeight": "bold", "fontSize": 19},
   "encoding": {"x": {"field": "E", "type": "quantitative"}, "y": {"field": "I", "type": "quantitative", "axis": null}, "text": {"field": "t"}}},
  {"data": {"values": [{"t": "0.1 μA", "E": 0.018, "I": 2.34}]}, "mark": {"type": "text", "align": "left", "fontSize": 17},
   "encoding": {"x": {"field": "E", "type": "quantitative"}, "y": {"field": "I", "type": "quantitative", "axis": null}, "text": {"field": "t"}}},
  {"data": {"values": [{"E": 0.786, "I": 1.80}]}, "mark": {"type": "point", "shape": "M-1,-0.7L1,0L-1,0.7Z", "filled": true, "color": "black", "opacity": 1, "size": 45, "angle": 300},
   "encoding": {"x": {"field": "E", "type": "quantitative"}, "y": {"field": "I", "type": "quantitative", "axis": null}}},
  {"data": {"values": [{"E": 0.718, "I": 1.35}]}, "mark": {"type": "point", "shape": "M-0.5,-1L0.5,0L-0.5,1", "filled": false, "color": "black", "opacity": 1, "size": 45, "angle": 180, "strokeWidth": 1.2},
   "encoding": {"x": {"field": "E", "type": "quantitative"}, "y": {"field": "I", "type": "quantitative", "axis": null}}}
 ]},
 {"layer": [
  {"data": {"name": "c2"}, "mark": {"type": "line"},
   "encoding": {
    "x": {"field": "E", "type": "quantitative", "scale": {"domain": [0.2, 1.516], "range": [473, 803], "nice": false, "zero": false},
          "axis": {"orient": "bottom", "offset": -854, "values": [0.2, 0.4, 0.6, 0.8, 1, 1.2, 1.4], "format": "~f", "title": "−E [V]", "titlePadding": 24, "labelPadding": 1}},
    "y": {"field": "I", "type": "quantitative", "scale": {"domain": [0, 2.613], "range": [392, 0], "nice": false, "zero": false}, "axis": null},
    "detail": {"field": "c"}, "order": {"field": "o"}}},
  {"data": {"name": "t2"}, "mark": {"type": "text"},
   "encoding": {"x": {"field": "E", "type": "quantitative"}, "y": {"field": "I", "type": "quantitative", "axis": null}, "text": {"field": "t"}}},
  {"data": {"name": "s2"}, "mark": {"type": "rule"},
   "encoding": {"x": {"field": "E", "type": "quantitative"}, "y": {"field": "I", "type": "quantitative", "axis": null}, "x2": {"field": "E2"}, "y2": {"field": "I2"}}},
  {"data": {"values": [{"t": "2", "E": 0.279, "I": 2.247}]}, "mark": {"type": "text", "fontWeight": "bold", "fontSize": 19},
   "encoding": {"x": {"field": "E", "type": "quantitative"}, "y": {"field": "I", "type": "quantitative", "axis": null}, "text": {"field": "t"}}},
  {"data": {"values": [{"t": "0.08 μA", "E": 0.181, "I": 1.587}]}, "mark": {"type": "text", "align": "left", "fontSize": 17},
   "encoding": {"x": {"field": "E", "type": "quantitative"}, "y": {"field": "I", "type": "quantitative", "axis": null}, "text": {"field": "t"}}},
  {"data": {"values": [{"E": 1.012, "I": 1.735}]}, "mark": {"type": "point", "shape": "M-1,-0.7L1,0L-1,0.7Z", "filled": true, "color": "black", "opacity": 1, "size": 45, "angle": 290},
   "encoding": {"x": {"field": "E", "type": "quantitative"}, "y": {"field": "I", "type": "quantitative", "axis": null}}},
  {"data": {"values": [{"E": 0.859, "I": 1.153}]}, "mark": {"type": "point", "shape": "M-0.5,-1L0.5,0L-0.5,1", "filled": false, "color": "black", "opacity": 1, "size": 45, "angle": 180, "strokeWidth": 1.2},
   "encoding": {"x": {"field": "E", "type": "quantitative"}, "y": {"field": "I", "type": "quantitative", "axis": null}}}
 ]},
 {"layer": [
  {"data": {"name": "c3"}, "mark": {"type": "line"},
   "encoding": {
    "x": {"field": "E", "type": "quantitative", "scale": {"domain": [0.2, 1.496], "range": [82, 406], "nice": false, "zero": false},
          "axis": {"orient": "bottom", "offset": -413, "values": [0.2, 0.4, 0.6, 0.8, 1, 1.2, 1.4], "format": "~f", "title": "−E [V]", "titlePadding": 14, "labelPadding": 3.3}},
    "y": {"field": "I", "type": "quantitative", "scale": {"domain": [0, 3.8], "range": [833, 453], "nice": false, "zero": false}, "axis": null},
    "detail": {"field": "c"}, "order": {"field": "o"}}},
  {"data": {"name": "t3"}, "mark": {"type": "text"},
   "encoding": {"x": {"field": "E", "type": "quantitative"}, "y": {"field": "I", "type": "quantitative", "axis": null}, "text": {"field": "t"}}},
  {"data": {"name": "s3"}, "mark": {"type": "rule"},
   "encoding": {"x": {"field": "E", "type": "quantitative"}, "y": {"field": "I", "type": "quantitative", "axis": null}, "x2": {"field": "E2"}, "y2": {"field": "I2"}}},
  {"data": {"values": [{"t": "3", "E": 0.055, "I": 3.38}]}, "mark": {"type": "text", "fontWeight": "bold", "fontSize": 19},
   "encoding": {"x": {"field": "E", "type": "quantitative"}, "y": {"field": "I", "type": "quantitative", "axis": null}, "text": {"field": "t"}}},
  {"data": {"values": [{"t": "0.1 μA", "E": -0.041, "I": 2.38}]}, "mark": {"type": "text", "align": "left", "fontSize": 17},
   "encoding": {"x": {"field": "E", "type": "quantitative"}, "y": {"field": "I", "type": "quantitative", "axis": null}, "text": {"field": "t"}}},
  {"data": {"values": [{"E": 0.885, "I": 2.19}]}, "mark": {"type": "point", "shape": "M-1,-0.7L1,0L-1,0.7Z", "filled": true, "color": "black", "opacity": 1, "size": 45, "angle": 300},
   "encoding": {"x": {"field": "E", "type": "quantitative"}, "y": {"field": "I", "type": "quantitative", "axis": null}}},
  {"data": {"values": [{"E": 0.765, "I": 1.707}]}, "mark": {"type": "point", "shape": "M-0.5,-1L0.5,0L-0.5,1", "filled": false, "color": "black", "opacity": 1, "size": 45, "angle": 180, "strokeWidth": 1.2},
   "encoding": {"x": {"field": "E", "type": "quantitative"}, "y": {"field": "I", "type": "quantitative", "axis": null}}}
 ]},
 {"layer": [
  {"data": {"name": "c4"}, "mark": {"type": "line"},
   "encoding": {
    "x": {"field": "E", "type": "quantitative", "scale": {"domain": [0.1706, 1.7427], "range": [454, 828], "nice": false, "zero": false},
          "axis": {"orient": "bottom", "offset": -408, "values": [0.2, 0.4, 0.6, 0.8, 1, 1.2, 1.4, 1.6], "format": "~f", "title": "−E [V]", "titlePadding": 9, "labelPadding": 2.5}},
    "y": {"field": "I", "type": "quantitative", "scale": {"domain": [0, 3.8], "range": [838, 458], "nice": false, "zero": false}, "axis": null},
    "detail": {"field": "c"}, "order": {"field": "o"}}},
  {"data": {"name": "t4"}, "mark": {"type": "text"},
   "encoding": {"x": {"field": "E", "type": "quantitative"}, "y": {"field": "I", "type": "quantitative", "axis": null}, "text": {"field": "t"}}},
  {"data": {"name": "s4"}, "mark": {"type": "rule"},
   "encoding": {"x": {"field": "E", "type": "quantitative"}, "y": {"field": "I", "type": "quantitative", "axis": null}, "x2": {"field": "E2"}, "y2": {"field": "I2"}}},
  {"data": {"values": [{"t": "4", "E": 0.382, "I": 3.43}]}, "mark": {"type": "text", "fontWeight": "bold", "fontSize": 19},
   "encoding": {"x": {"field": "E", "type": "quantitative"}, "y": {"field": "I", "type": "quantitative", "axis": null}, "text": {"field": "t"}}},
  {"data": {"values": [{"t": "0.1 μA", "E": 0.455, "I": 2.447}]}, "mark": {"type": "text", "align": "left", "fontSize": 17},
   "encoding": {"x": {"field": "E", "type": "quantitative"}, "y": {"field": "I", "type": "quantitative", "axis": null}, "text": {"field": "t"}}},
  {"data": {"values": [{"E": 1.036, "I": 1.65}]}, "mark": {"type": "point", "shape": "M-0.5,-1L0.5,0L-0.5,1", "filled": false, "color": "black", "opacity": 1, "size": 45, "angle": 340, "strokeWidth": 1.2},
   "encoding": {"x": {"field": "E", "type": "quantitative"}, "y": {"field": "I", "type": "quantitative", "axis": null}}},
  {"data": {"values": [{"E": 0.840, "I": 1.15}]}, "mark": {"type": "point", "shape": "M-0.5,-1L0.5,0L-0.5,1", "filled": false, "color": "black", "opacity": 1, "size": 45, "angle": 166, "strokeWidth": 1.2},
   "encoding": {"x": {"field": "E", "type": "quantitative"}, "y": {"field": "I", "type": "quantitative", "axis": null}}}
 ]},
 {"layer": [
  {"data": {"name": "c5"}, "mark": {"type": "line"},
   "encoding": {
    "x": {"field": "E", "type": "quantitative", "scale": {"domain": [0.2, 1.4], "range": [254, 658], "nice": false, "zero": false},
          "axis": {"orient": "bottom", "offset": -48, "values": [0.2, 0.4, 0.6, 0.8, 1, 1.2, 1.4], "format": "~f", "title": "−E [V]", "titlePadding": 11.5, "labelPadding": 0.5}},
    "y": {"field": "I", "type": "quantitative", "scale": {"domain": [0, 3.2], "range": [1198, 878], "nice": false, "zero": false}, "axis": null},
    "detail": {"field": "c"}, "order": {"field": "o"}}},
  {"data": {"name": "t5"}, "mark": {"type": "text"},
   "encoding": {"x": {"field": "E", "type": "quantitative"}, "y": {"field": "I", "type": "quantitative", "axis": null}, "text": {"field": "t"}}},
  {"data": {"name": "s5"}, "mark": {"type": "rule"},
   "encoding": {"x": {"field": "E", "type": "quantitative"}, "y": {"field": "I", "type": "quantitative", "axis": null}, "x2": {"field": "E2"}, "y2": {"field": "I2"}}},
  {"data": {"values": [{"t": "5", "E": -0.026, "I": 1.71}]}, "mark": {"type": "text", "fontWeight": "bold", "fontSize": 19},
   "encoding": {"x": {"field": "E", "type": "quantitative"}, "y": {"field": "I", "type": "quantitative", "axis": null}, "text": {"field": "t"}}},
  {"data": {"values": [{"t": "0.14μA", "E": 0.188, "I": 2.457}]}, "mark": {"type": "text", "align": "left", "fontSize": 17},
   "encoding": {"x": {"field": "E", "type": "quantitative"}, "y": {"field": "I", "type": "quantitative", "axis": null}, "text": {"field": "t"}}}
 ]}
],
"resolve": {"scale": {"x": "independent", "y": "independent"}, "axis": {"x": "independent", "y": "independent"}}
}
